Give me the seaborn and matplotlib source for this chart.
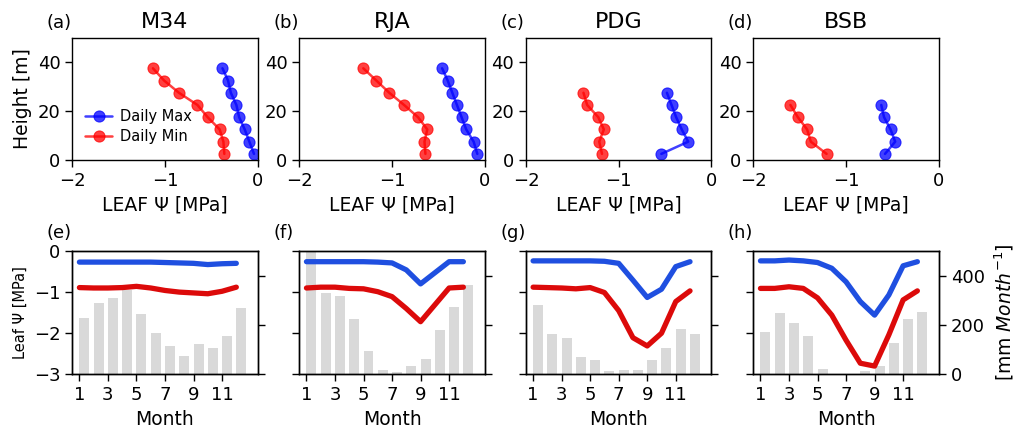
import numpy as np
import pandas as pd
import matplotlib
matplotlib.use("Agg")
import matplotlib.pyplot as plt
import seaborn as sns

# ---- vertical leaf water potential profiles (MPa) by height (m) ----
sites = ["M34", "RJA", "PDG", "BSB"]
top_tags = ["(a)", "(b)", "(c)", "(d)"]
bottom_tags = ["(e)", "(f)", "(g)", "(h)"]

height_m34 = [2.5, 7.5, 12.5, 17.5, 22.5, 27.5, 32.5, 37.5]
max_m34 = [-0.04, -0.09, -0.14, -0.20, -0.23, -0.29, -0.32, -0.38]
min_m34 = [-0.36, -0.37, -0.41, -0.54, -0.65, -0.85, -1.01, -1.13]

height_rja = [2.5, 7.5, 12.5, 17.5, 22.5, 27.5, 32.5, 37.5]
max_rja = [-0.08, -0.12, -0.20, -0.25, -0.30, -0.35, -0.40, -0.46]
min_rja = [-0.64, -0.65, -0.62, -0.72, -0.87, -1.03, -1.17, -1.31]

height_pdg = [2.5, 7.5, 12.5, 17.5, 22.5, 27.5]
max_pdg = [-0.54, -0.25, -0.32, -0.38, -0.43, -0.48]
min_pdg = [-1.18, -1.21, -1.16, -1.22, -1.34, -1.38]

height_bsb = [2.5, 7.5, 12.5, 17.5, 22.5]
max_bsb = [-0.58, -0.47, -0.52, -0.59, -0.62]
min_bsb = [-1.21, -1.38, -1.42, -1.52, -1.60]

# ---- monthly leaf water potential (MPa) and precipitation (mm/month) ----
months = list(range(1, 13))

mon_max_m34 = [-0.27, -0.27, -0.27, -0.27, -0.27, -0.27, -0.28, -0.29, -0.30, -0.33, -0.31, -0.30]
mon_min_m34 = [-0.89, -0.90, -0.90, -0.89, -0.86, -0.90, -0.96, -1.00, -1.02, -1.04, -0.98, -0.88]
precip_m34 = [230, 290, 308, 342, 245, 166, 116, 76, 122, 108, 154, 268]

mon_max_rja = [-0.26, -0.26, -0.26, -0.26, -0.26, -0.27, -0.29, -0.46, -0.80, -0.53, -0.26, -0.26]
mon_min_rja = [-0.90, -0.88, -0.88, -0.91, -0.92, -0.99, -1.11, -1.40, -1.72, -1.31, -0.90, -0.88]
precip_rja = [500, 328, 318, 223, 95, 19, 11, 34, 64, 180, 274, 362]

mon_max_pdg = [-0.24, -0.24, -0.24, -0.24, -0.24, -0.25, -0.30, -0.71, -1.13, -0.93, -0.38, -0.26]
mon_min_pdg = [-0.88, -0.89, -0.90, -0.92, -0.89, -1.01, -1.45, -2.11, -2.31, -2.00, -1.23, -0.97]
precip_pdg = [281, 164, 147, 70, 58, 15, 19, 19, 57, 105, 185, 164]

mon_max_bsb = [-0.24, -0.24, -0.22, -0.24, -0.28, -0.42, -0.75, -1.23, -1.56, -1.07, -0.36, -0.26]
mon_min_bsb = [-0.91, -0.91, -0.87, -0.91, -1.14, -1.56, -2.17, -2.73, -2.80, -2.04, -1.19, -0.97]
precip_bsb = [173, 250, 207, 155, 20, 0, 0, 15, 34, 126, 223, 254]

profiles = [
    (height_m34, max_m34, min_m34),
    (height_rja, max_rja, min_rja),
    (height_pdg, max_pdg, min_pdg),
    (height_bsb, max_bsb, min_bsb),
]
monthly = [
    (mon_max_m34, mon_min_m34, precip_m34),
    (mon_max_rja, mon_min_rja, precip_rja),
    (mon_max_pdg, mon_min_pdg, precip_pdg),
    (mon_max_bsb, mon_min_bsb, precip_bsb),
]

sns.set_style("ticks")
plt.rcParams["font.family"] = ["DejaVu Sans"]
plt.rcParams["xtick.direction"] = "out"
plt.rcParams["ytick.direction"] = "out"
plt.rcParams["axes.edgecolor"] = "black"
plt.rcParams["xtick.color"] = "black"
plt.rcParams["ytick.color"] = "black"
plt.rcParams["text.color"] = "black"
plt.rcParams["axes.labelcolor"] = "black"
plt.rcParams["axes.linewidth"] = 1.0

fig = plt.figure(figsize=(10.15, 4.36), dpi=100)

lefts = [0.0712, 0.2949, 0.5182, 0.7422]
width = 0.1827
top_row = (0.633, 0.2805)
bot_row = (0.1415, 0.2828)

MARK_BLUE = "blue"
MARK_RED = "red"
LINE_BLUE = "#1f4fe0"
LINE_RED = "#dc0a0a"
BAR_GRAY = "#d9d9d9"

TICK_FS = 13
LABEL_FS = 13.5

for i, site in enumerate(sites):
    # ---------------- top row: vertical profiles ----------------
    ax = fig.add_axes([lefts[i], top_row[0], width, top_row[1]])
    h, vmax, vmin = profiles[i]
    df = pd.DataFrame({"height": h, "max": vmax, "min": vmin})
    sns.lineplot(data=df, x="max", y="height", sort=False, estimator=None,
                 color=MARK_BLUE, marker="o", markersize=8, linewidth=1.8,
                 markeredgecolor=MARK_BLUE, alpha=0.75, ax=ax, label="Daily Max")
    sns.lineplot(data=df, x="min", y="height", sort=False, estimator=None,
                 color=MARK_RED, marker="o", markersize=8, linewidth=1.8,
                 markeredgecolor=MARK_RED, alpha=0.75, ax=ax, label="Daily Min")
    ax.set_xlim(-2, 0)
    ax.set_ylim(0, 50)
    ax.set_xticks([-2, -1, 0])
    ax.set_yticks([0, 20, 40])
    ax.tick_params(labelsize=TICK_FS, length=5, width=1)
    ax.set_xlabel("LEAF Ψ [MPa]", fontsize=LABEL_FS)
    ax.set_ylabel("Height [m]" if i == 0 else "", fontsize=LABEL_FS)
    ax.set_title(site, fontsize=16, pad=7)
    ax.text(-0.14, 1.045, top_tags[i], transform=ax.transAxes, fontsize=13,
            ha="left", va="bottom")
    if i == 0:
        ax.legend(loc="lower left", bbox_to_anchor=(0.0, 0.02),
                  frameon=False, fontsize=10.5, handlelength=1.8,
                  labelspacing=0.4, handletextpad=0.6)
    else:
        ax.get_legend().remove()

    # ---------------- bottom row: seasonal cycle ----------------
    axb = fig.add_axes([lefts[i], bot_row[0], width, bot_row[1]])
    axp = axb.twinx()
    mx, mn, pr = monthly[i]
    axp.bar(months, pr, width=0.7, align="edge", color=BAR_GRAY,
            edgecolor="none")
    axp.set_ylim(0, 500)
    axp.set_yticks([0, 200, 400])
    axp.tick_params(labelsize=TICK_FS, length=5, width=1)
    if i == 3:
        axp.set_ylabel(r"[mm $Month^{-1}$]", fontsize=LABEL_FS, labelpad=6)
    else:
        axp.set_yticklabels([])

    axb.set_zorder(axp.get_zorder() + 1)
    axb.patch.set_visible(False)
    dm = pd.DataFrame({"month": months, "max": mx, "min": mn})
    sns.lineplot(data=dm, x="month", y="max", color=LINE_BLUE, linewidth=3.8,
                 ax=axb)
    sns.lineplot(data=dm, x="month", y="min", color=LINE_RED, linewidth=3.8,
                 ax=axb)
    axb.set_xlim(0.5, 13.5)
    axb.set_ylim(-3, 0)
    axb.set_xticks([1, 3, 5, 7, 9, 11])
    axb.set_yticks([-3, -2, -1, 0])
    axb.tick_params(labelsize=TICK_FS, length=5, width=1)
    axb.set_xlabel("Month", fontsize=LABEL_FS)
    if i == 0:
        axb.set_ylabel("Leaf Ψ [MPa]", fontsize=10.5)
    else:
        axb.set_ylabel("")
        axb.set_yticklabels([])
    axb.text(-0.14, 1.07, bottom_tags[i], transform=axb.transAxes,
             fontsize=13, ha="left", va="bottom")

fig.savefig("out.png", dpi=100)
